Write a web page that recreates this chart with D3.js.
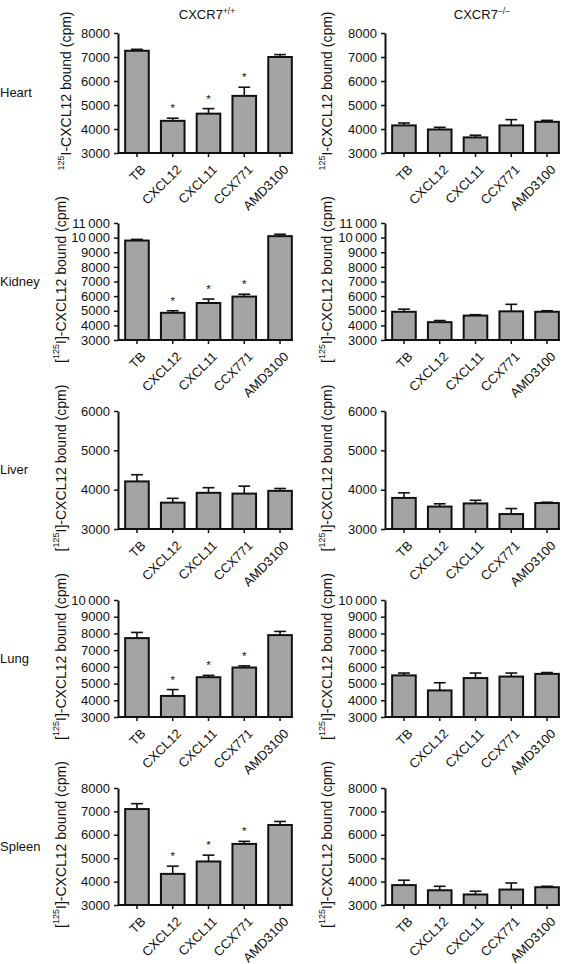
<!DOCTYPE html>
<html>
<head>
<meta charset="utf-8">
<script src="https://cdn.jsdelivr.net/npm/d3@7"></script>
<style>
  html, body { margin: 0; padding: 0; background: #fff; }
  svg { display: block; }
  text { font-family: "Liberation Sans", Arial, Helvetica, sans-serif; fill: #111; }
</style>
</head>
<body>
<svg id="chart" width="568" height="964"></svg>
<script>
// ---- Data ----
const categories = ["TB", "CXCL12", "CXCL11", "CCX771", "AMD3100"];
const organs = ["Heart", "Kidney", "Liver", "Lung", "Spleen"];
const genotypes = ["+/+", "\u2212/\u2212"];

const heartWT   = [7260, 4340, 4640, 5380, 7000];
const heartWTerr = [60, 110, 210, 360, 100];
const heartKO   = [4150, 3980, 3650, 4150, 4300];
const heartKOerr = [100, 90, 90, 240, 60];

const kidneyWT   = [9800, 4860, 5530, 5970, 10100];
const kidneyWTerr = [80, 140, 270, 160, 130];
const kidneyKO   = [4930, 4220, 4670, 4960, 4930];
const kidneyKOerr = [180, 110, 60, 480, 70];

const liverWT   = [4210, 3670, 3920, 3900, 3970];
const liverWTerr = [170, 110, 130, 190, 60];
const liverKO   = [3790, 3570, 3650, 3380, 3660];
const liverKOerr = [130, 70, 80, 140, 20];

const lungWT   = [7720, 4260, 5380, 5960, 7900];
const lungWTerr = [340, 380, 110, 100, 220];
const lungKO   = [5490, 4590, 5330, 5420, 5580];
const lungKOerr = [140, 460, 300, 210, 80];

const spleenWT   = [7100, 4330, 4860, 5610, 6420];
const spleenWTerr = [230, 330, 270, 110, 150];
const spleenKO   = [3850, 3630, 3450, 3660, 3760];
const spleenKOerr = [210, 170, 140, 280, 40];

// significance stars (1 = star) per WT organ
const heartStars  = [0, 1, 1, 1, 0];
const kidneyStars = [0, 1, 1, 1, 0];
const liverStars  = [0, 0, 0, 0, 0];
const lungStars   = [0, 1, 1, 1, 0];
const spleenStars = [0, 1, 1, 1, 0];
const noStars     = [0, 0, 0, 0, 0];

// y-axis maxima per organ (min 3000)
const yMin = 3000;
const yMaxes = [8000, 11000, 6000, 10000, 8000];

// ---- Layout ----
const svg = d3.select("#chart");
const rowTop = [33, 223, 411, 600, 788];
const rowBottom = [153, 340, 529, 717, 905];
const colAxisX = [118, 385];
const colWidth = 181;
const ylabelX = [[67, 328], [62, 328], [62, 328], [62, 328], [62, 328]];

const panels = [
  [heartWT, heartWTerr, heartStars, heartKO, heartKOerr, noStars],
  [kidneyWT, kidneyWTerr, kidneyStars, kidneyKO, kidneyKOerr, noStars],
  [liverWT, liverWTerr, liverStars, liverKO, liverKOerr, noStars],
  [lungWT, lungWTerr, lungStars, lungKO, lungKOerr, noStars],
  [spleenWT, spleenWTerr, spleenStars, spleenKO, spleenKOerr, noStars]
];

const fmt = v => v >= 10000 ? d3.format(",")(v).replace(",", "\u2009") : String(v);

// Column titles
[0, 1].forEach(c => {
  const t = svg.append("text")
    .attr("x", c === 0 ? 207 : 482).attr("y", 19)
    .attr("text-anchor", "middle")
    .style("font-size", "13px");
  t.append("tspan").text("CXCR7");
  t.append("tspan").attr("dy", -5).style("font-size", "8.5px").text(genotypes[c]);
});

organs.forEach((organ, r) => {
  // Row label
  svg.append("text")
    .attr("x", 0).attr("y", (rowTop[r] + rowBottom[r]) / 2 + 4)
    .style("font-size", "13px")
    .text(organ);

  [0, 1].forEach(c => {
    const vals = panels[r][c * 3];
    const errs = panels[r][c * 3 + 1];
    const stars = panels[r][c * 3 + 2];
    const ax = colAxisX[c];

    const y = d3.scaleLinear().domain([yMin, yMaxes[r]]).range([rowBottom[r], rowTop[r]]);
    const x = d3.scaleBand().domain(categories)
      .range([ax, ax + colWidth]).paddingInner(0.34).paddingOuter(0.2);

    const g = svg.append("g");

    // bars
    g.selectAll("rect.bar").data(vals).enter().append("rect")
      .attr("x", (d, i) => x(categories[i]))
      .attr("y", d => y(d))
      .attr("width", x.bandwidth())
      .attr("height", d => y(yMin) - y(d))
      .attr("fill", "#a4a4a4")
      .attr("stroke", "#111")
      .attr("stroke-width", 2);

    // error bars (upper only)
    const capW = x.bandwidth() * 0.5;
    vals.forEach((d, i) => {
      const cx = x(categories[i]) + x.bandwidth() / 2;
      g.append("line")
        .attr("x1", cx).attr("x2", cx)
        .attr("y1", y(d)).attr("y2", y(d + errs[i]))
        .attr("stroke", "#111").attr("stroke-width", 1.6);
      g.append("line")
        .attr("x1", cx - capW / 2).attr("x2", cx + capW / 2)
        .attr("y1", y(d + errs[i])).attr("y2", y(d + errs[i]))
        .attr("stroke", "#111").attr("stroke-width", 1.6);
      if (stars[i]) {
        g.append("text")
          .attr("x", cx).attr("y", y(d + errs[i]) - 6)
          .attr("text-anchor", "middle")
          .style("font-size", "11.5px")
          .text("*");
      }
    });

    // y axis
    const yAxis = d3.axisLeft(y)
      .tickValues(d3.range(yMin, yMaxes[r] + 1, 1000))
      .tickFormat(fmt)
      .tickSize(4).tickSizeOuter(0).tickPadding(4);
    const ya = g.append("g").attr("transform", `translate(${ax},0)`).call(yAxis);
    ya.select(".domain").attr("stroke", "#111").attr("stroke-width", 2);
    ya.selectAll(".tick line").attr("stroke", "#111").attr("stroke-width", 1.5);
    ya.selectAll(".tick text")
      .style("font-family", '"Liberation Sans", Arial, sans-serif')
      .style("font-size", "13px").attr("fill", "#111");

    // x axis
    const xAxis = d3.axisBottom(x).tickSize(4).tickSizeOuter(0).tickPadding(3);
    const xa = g.append("g").attr("transform", `translate(0,${rowBottom[r]})`).call(xAxis);
    xa.select(".domain").attr("stroke", "#111").attr("stroke-width", 2)
      .attr("d", `M${ax},0H${ax + colWidth - 6}`);
    xa.selectAll(".tick line").attr("stroke", "#111").attr("stroke-width", 1.5);
    xa.selectAll(".tick text")
      .style("font-family", '"Liberation Sans", Arial, sans-serif')
      .style("font-size", "13px").attr("fill", "#111")
      .attr("text-anchor", "end")
      .attr("dy", null).attr("y", 0)
      .attr("transform", "translate(7,15) rotate(-45)")
      .attr("dominant-baseline", "middle");

    // y label
    const lx = ylabelX[r][c];
    const ly = (rowTop[r] + rowBottom[r]) / 2 - 2;
    const lab = g.append("text")
      .attr("transform", `translate(${lx},${ly}) rotate(-90)`)
      .attr("text-anchor", "middle")
      .attr("dominant-baseline", "middle")
      .style("font-size", "14px");
    const bracket = r !== 0;
    if (bracket) lab.append("tspan").text("[");
    lab.append("tspan").attr("dy", -5).style("font-size", "9px").text("125");
    lab.append("tspan").attr("dy", 5).text(bracket ? "I]-CXCL12 bound (cpm)" : "I-CXCL12 bound (cpm)");
  });
});
</script>
</body>
</html>
